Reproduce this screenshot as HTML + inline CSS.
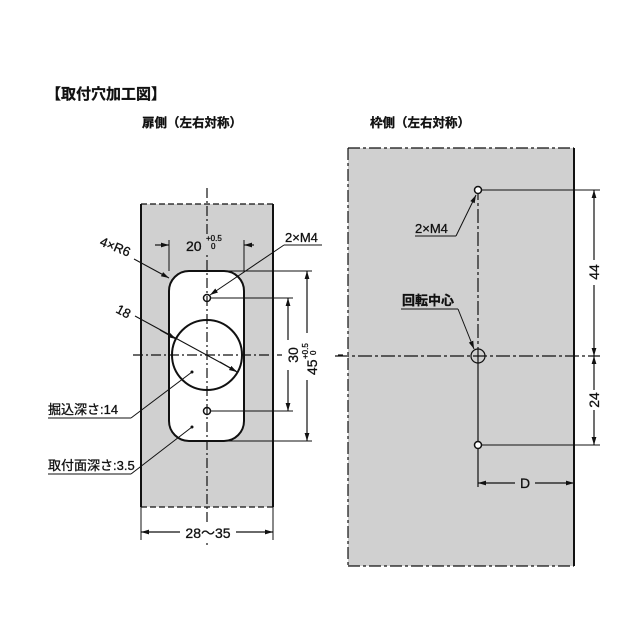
<!DOCTYPE html>
<html><head><meta charset="utf-8"><style>
html,body{margin:0;padding:0;background:#fff;}
svg{display:block;}
text{font-family:"Liberation Sans","Noto Sans CJK JP",sans-serif;fill:#111;stroke:#111;stroke-width:0.3;}
</style></head><body>
<svg width="640" height="640" viewBox="0 0 640 640" xmlns="http://www.w3.org/2000/svg">
<defs>
<marker id="a" viewBox="0 0 10 10" refX="10" refY="5" markerWidth="8" markerHeight="8" orient="auto-start-reverse" markerUnits="userSpaceOnUse"><path d="M0,2 L10,5 L0,8 z" fill="#111"/></marker>
</defs>
<text x="46" y="99" font-size="15" font-weight="bold">【取付穴加工図】</text>
<text x="142" y="127" font-size="12.5" font-weight="bold">扉側（左右対称）</text>
<text x="370" y="127" font-size="12.5" font-weight="bold">枠側（左右対称）</text>

<!-- LEFT -->
<rect x="141" y="204" width="132" height="303" fill="#d0d0d0"/>
<line x1="141" y1="204" x2="141" y2="507" stroke="#111" stroke-width="2"/>
<line x1="273" y1="204" x2="273" y2="507" stroke="#111" stroke-width="2"/>
<line x1="141" y1="204" x2="273" y2="204" stroke="#111" stroke-width="1.2" stroke-dasharray="6,3"/>
<line x1="141" y1="507" x2="273" y2="507" stroke="#111" stroke-width="1.2" stroke-dasharray="6,3"/>
<rect x="169" y="271" width="75" height="170" rx="20" fill="#fff" stroke="#111" stroke-width="2"/>
<circle cx="207" cy="355" r="35" fill="none" stroke="#111" stroke-width="2"/>
<circle cx="207" cy="298" r="3.5" fill="#fff" stroke="#111" stroke-width="1.5"/>
<circle cx="207" cy="411" r="3.5" fill="#fff" stroke="#111" stroke-width="1.5"/>
<line x1="207" y1="188" x2="207" y2="548" stroke="#111" stroke-width="1.2" stroke-dasharray="10,3,2,3"/>
<line x1="133" y1="355" x2="282" y2="355" stroke="#111" stroke-width="1.2" stroke-dasharray="10,3,2,3"/>
<line x1="338" y1="355" x2="343" y2="355" stroke="#111" stroke-width="1.2"/>
<!-- 20 dim -->
<line x1="169" y1="240" x2="169" y2="271" stroke="#111" stroke-width="1"/>
<line x1="244" y1="240" x2="244" y2="271" stroke="#111" stroke-width="1"/>
<line x1="155" y1="245" x2="169" y2="245" stroke="#111" stroke-width="1.2" marker-end="url(#a)"/>
<line x1="254" y1="245" x2="244" y2="245" stroke="#111" stroke-width="1.2" marker-end="url(#a)"/>
<rect x="185" y="234" width="48" height="18" fill="#d0d0d0"/>
<text x="186" y="251" font-size="14">20</text>
<text x="206" y="241" font-size="8">+0.5</text>
<text x="211" y="249" font-size="8">0</text>
<!-- 30 dim -->
<line x1="211" y1="298" x2="293" y2="298" stroke="#111" stroke-width="1"/>
<line x1="211" y1="411" x2="293" y2="411" stroke="#111" stroke-width="1"/>
<line x1="288" y1="340" x2="288" y2="298" stroke="#111" stroke-width="1.2" marker-end="url(#a)"/>
<line x1="288" y1="370" x2="288" y2="411" stroke="#111" stroke-width="1.2" marker-end="url(#a)"/>
<text transform="translate(298,355) rotate(-90)" font-size="14" text-anchor="middle">30</text>
<!-- 45 dim -->
<line x1="207" y1="271" x2="312" y2="271" stroke="#111" stroke-width="1"/>
<line x1="207" y1="441" x2="312" y2="441" stroke="#111" stroke-width="1"/>
<line x1="307" y1="333" x2="307" y2="271" stroke="#111" stroke-width="1.2" marker-end="url(#a)"/>
<line x1="307" y1="380" x2="307" y2="441" stroke="#111" stroke-width="1.2" marker-end="url(#a)"/>
<g transform="translate(317,375) rotate(-90)">
<text x="0" y="0" font-size="14">45</text>
<text x="16" y="-9" font-size="8">+0.5</text>
<text x="20" y="-1" font-size="8">0</text>
</g>
<!-- 28~35 -->
<line x1="141" y1="507" x2="141" y2="540" stroke="#111" stroke-width="1"/>
<line x1="273" y1="507" x2="273" y2="540" stroke="#111" stroke-width="1"/>
<line x1="180" y1="532" x2="141" y2="532" stroke="#111" stroke-width="1.2" marker-end="url(#a)"/>
<line x1="236" y1="532" x2="273" y2="532" stroke="#111" stroke-width="1.2" marker-end="url(#a)"/>
<rect x="180" y="524" width="56" height="16" fill="#fff"/>
<text x="208" y="538" font-size="14" text-anchor="middle">28～35</text>
<!-- 4xR6 -->
<text transform="translate(99,245) rotate(22)" font-size="13">4×R6</text>
<line x1="134" y1="259" x2="169" y2="278" stroke="#111" stroke-width="1" marker-end="url(#a)"/>
<!-- 18 -->
<text transform="translate(115,312) rotate(28)" font-size="13">18</text>
<line x1="135" y1="316" x2="236" y2="371" stroke="#111" stroke-width="1"/>
<line x1="160" y1="330" x2="176" y2="339" stroke="#111" stroke-width="1.2" marker-end="url(#a)"/>
<line x1="220" y1="362" x2="237" y2="372" stroke="#111" stroke-width="1.2" marker-end="url(#a)"/>
<!-- 2xM4 left -->
<text x="285" y="242" font-size="13">2×M4</text>
<line x1="284" y1="245" x2="322" y2="245" stroke="#111" stroke-width="1"/>
<line x1="284" y1="245" x2="210" y2="295" stroke="#111" stroke-width="1" marker-end="url(#a)"/>
<!-- 掘込 -->
<text x="48" y="414" font-size="13">掘込深さ:14</text>
<line x1="48" y1="418" x2="131" y2="418" stroke="#111" stroke-width="1"/>
<line x1="131" y1="418" x2="192" y2="372" stroke="#111" stroke-width="1"/>
<circle cx="192" cy="372" r="1.5" fill="#111"/>
<text x="48" y="470" font-size="13">取付面深さ:3.5</text>
<line x1="48" y1="474" x2="131" y2="474" stroke="#111" stroke-width="1"/>
<line x1="131" y1="474" x2="192" y2="427" stroke="#111" stroke-width="1"/>
<circle cx="192" cy="427" r="1.5" fill="#111"/>

<!-- RIGHT -->
<rect x="348" y="148" width="226" height="418" fill="#d0d0d0"/>
<line x1="348" y1="148" x2="574" y2="148" stroke="#111" stroke-width="1.2" stroke-dasharray="12,3,3,3"/>
<line x1="348" y1="148" x2="348" y2="566" stroke="#111" stroke-width="1.2" stroke-dasharray="12,3,3,3"/>
<line x1="348" y1="566" x2="574" y2="566" stroke="#111" stroke-width="1.2" stroke-dasharray="12,3,3,3"/>
<line x1="574" y1="148" x2="574" y2="566" stroke="#111" stroke-width="2"/>
<line x1="335" y1="356" x2="600" y2="356" stroke="#111" stroke-width="1.2" stroke-dasharray="14,3,3,3"/>
<line x1="478" y1="186" x2="478" y2="356" stroke="#111" stroke-width="1.2" stroke-dasharray="14,3,3,3"/>
<line x1="478" y1="356" x2="478" y2="487" stroke="#111" stroke-width="1.2"/>
<circle cx="478" cy="190" r="3.5" fill="#fff" stroke="#111" stroke-width="1.5"/>
<circle cx="478" cy="445" r="3.5" fill="#fff" stroke="#111" stroke-width="1.5"/>
<circle cx="478" cy="356" r="7" fill="none" stroke="#111" stroke-width="1.2"/>
<line x1="482" y1="190" x2="600" y2="190" stroke="#111" stroke-width="1"/>
<line x1="482" y1="445" x2="600" y2="445" stroke="#111" stroke-width="1"/>
<line x1="594" y1="260" x2="594" y2="190" stroke="#111" stroke-width="1.2" marker-end="url(#a)"/>
<line x1="594" y1="285" x2="594" y2="356" stroke="#111" stroke-width="1.2" marker-end="url(#a)"/>
<line x1="594" y1="390" x2="594" y2="356" stroke="#111" stroke-width="1.2" marker-end="url(#a)"/>
<line x1="594" y1="410" x2="594" y2="445" stroke="#111" stroke-width="1.2" marker-end="url(#a)"/>
<text transform="translate(599,272) rotate(-90)" font-size="14" text-anchor="middle">44</text>
<text transform="translate(599,400) rotate(-90)" font-size="14" text-anchor="middle">24</text>
<line x1="515" y1="483" x2="478" y2="483" stroke="#111" stroke-width="1.2" marker-end="url(#a)"/>
<line x1="535" y1="483" x2="574" y2="483" stroke="#111" stroke-width="1.2" marker-end="url(#a)"/>
<text x="525" y="488" font-size="14" text-anchor="middle">D</text>
<text x="415" y="233" font-size="13">2×M4</text>
<line x1="415" y1="236" x2="456" y2="236" stroke="#111" stroke-width="1"/>
<line x1="456" y1="236" x2="476" y2="195" stroke="#111" stroke-width="1" marker-end="url(#a)"/>
<text x="402" y="305" font-size="13" font-weight="bold">回転中心</text>
<line x1="401" y1="309" x2="458" y2="309" stroke="#111" stroke-width="1"/>
<line x1="458" y1="309" x2="474" y2="349" stroke="#111" stroke-width="1" marker-end="url(#a)"/>
</svg>
</body></html>
